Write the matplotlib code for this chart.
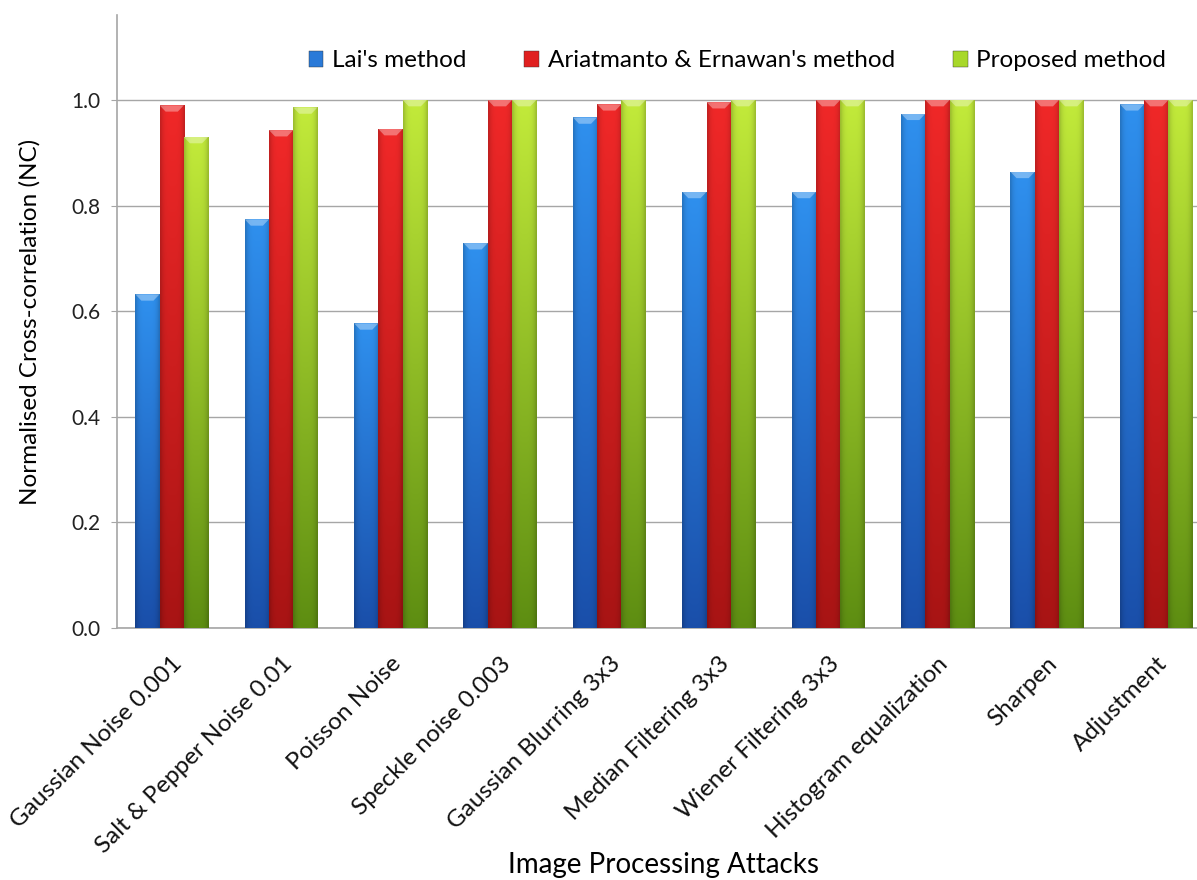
import numpy as np
import matplotlib
matplotlib.use("Agg")
import matplotlib.pyplot as plt
from matplotlib.patches import Patch
from matplotlib.colors import to_rgb

categories = ["Gaussian Noise 0.001", "Salt & Pepper Noise 0.01", "Poisson Noise",
              "Speckle noise 0.003", "Gaussian Blurring 3x3", "Median Filtering 3x3",
              "Wiener Filtering 3x3", "Histogram equalization", "Sharpen", "Adjustment"]
lai = [0.632, 0.774, 0.577, 0.729, 0.967, 0.826, 0.826, 0.974, 0.864, 0.992]
ariatmanto = [0.990, 0.943, 0.945, 1.000, 0.992, 0.996, 1.000, 1.000, 1.000, 1.000]
proposed = [0.930, 0.986, 1.000, 1.000, 1.000, 1.000, 1.000, 1.000, 1.000, 1.000]
series_names = ["Lai's method", "Ariatmanto & Ernawan's method", "Proposed method"]
yticks = [0.0, 0.2, 0.4, 0.6, 0.8, 1.0]

plt.rcParams['font.family'] = ['Lato', 'DejaVu Sans']

fig = plt.figure(figsize=(11.97, 8.8), dpi=100)
ax = fig.add_axes([117/1197, 252/880, 1094/1197, 613/880])

colors = [("#1a4faa", "#2f90ee"), ("#a81414", "#f02828"), ("#5e8e12", "#c2ea3a")]
legend_cols = ["#2a7ad8", "#e02020", "#a8d82a"]
width = 0.222
x = np.arange(len(categories))
offsets = [-width, 0, width]

def grad_img(c_bot, c_top, n=64, m=16):
    cb = np.array(to_rgb(c_bot)); ct = np.array(to_rgb(c_top))
    t = np.linspace(0, 1, n)[:, None]
    vert = cb[None, :] * (1 - t) + ct[None, :] * t
    u = np.linspace(-1, 1, m)
    hfac = 1.0 - 0.18 * u**4
    img = vert[:, None, :] * hfac[None, :, None]
    return np.clip(img, 0, 1)

for vals, off, (cb, ct) in zip([lai, ariatmanto, proposed], offsets, colors):
    bars = ax.bar(x + off, vals, width=width, color=ct, edgecolor='none', zorder=2)
    img = grad_img(cb, ct)
    for b in bars:
        x0, w, h = b.get_x(), b.get_width(), b.get_height()
        im = ax.imshow(img, extent=[x0, x0 + w, 0, h], origin='lower',
                       aspect='auto', zorder=3, interpolation='bilinear')
        im.set_clip_path(b)
        cap = 0.012
        ax.fill([x0, x0 + w, x0 + w * 0.75, x0 + w * 0.25],
                [h, h, h - cap, h - cap], color='white', alpha=0.35,
                lw=0, zorder=4)

ax.set_xlim(-0.5, 9.5)
ax.set_ylim(0, 1.161)
ax.set_yticks(yticks)
ax.set_yticklabels([f"{v:.1f}" for v in yticks], fontsize=15, color='#222222')
ax.yaxis.grid(True, color='#a6a6a6', lw=1.0, zorder=0)
ax.set_axisbelow(True)
ax.tick_params(axis='y', length=4, color='#a6a6a6', pad=8)
ax.tick_params(axis='x', length=0, pad=18)
ax.set_xticks(x)
ax.set_xticklabels(categories, rotation=45, ha='right', rotation_mode='anchor',
                   fontsize=17.5, color='#111111')
for s in ['top', 'right']:
    ax.spines[s].set_visible(False)
for s in ['left', 'bottom']:
    ax.spines[s].set_color('#a6a6a6')
    ax.spines[s].set_linewidth(1.2)

ax.set_ylabel("Normalised Cross-correlation (NC)", fontsize=17.5, labelpad=22)
fig.text(663/1197, 1 - 865/880, "Image Processing Attacks", fontsize=20,
         ha='center', va='center')

handles = [Patch(facecolor=c, edgecolor='#333333', lw=0.3) for c in legend_cols]
ax.legend(handles, series_names, loc='center', bbox_to_anchor=(0.567, 0.925),
          ncol=3, frameon=False, fontsize=17.5, handlelength=0.6, handleheight=0.6,
          handletextpad=0.35, columnspacing=2.4)

fig.savefig("out.png", dpi=100)
